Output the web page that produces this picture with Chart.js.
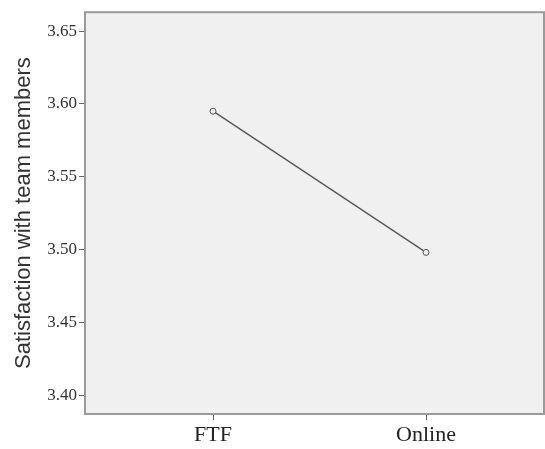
<!DOCTYPE html>
<html>
<head>
<meta charset="utf-8">
<script src="https://cdn.jsdelivr.net/npm/chart.js@4/dist/chart.umd.min.js"></script>
<style>
  html, body { margin: 0; padding: 0; background: #ffffff; }
  #wrap { width: 545px; height: 449px; }
</style>
</head>
<body>
<div id="wrap"><canvas id="c" width="545" height="449"></canvas></div>
<script>
const categories = ["FTF", "Online"];
const categoryPositions = [1, 2];
const satisfactionValues = [3.595, 3.498];
const yTickValues = [3.40, 3.45, 3.50, 3.55, 3.60, 3.65];
const yAxisTitle = "Satisfaction with team members";

const plotFrame = {
  id: 'plotFrame',
  beforeDatasetsDraw(chart) {
    const {ctx, chartArea: a} = chart;
    ctx.save();
    ctx.fillStyle = '#f0f0f0';
    ctx.fillRect(a.left, a.top, a.right - a.left, a.bottom - a.top);
    ctx.restore();
  },
  afterDatasetsDraw(chart) {
    const {ctx, chartArea: a} = chart;
    ctx.save();
    ctx.strokeStyle = '#9a9a9a';
    ctx.lineWidth = 2;
    ctx.strokeRect(a.left, a.top, a.right - a.left, a.bottom - a.top);
    ctx.restore();
  }
};

new Chart(document.getElementById('c'), {
  type: 'line',
  data: {
    datasets: [{
      data: categoryPositions.map((x, i) => ({x: x, y: satisfactionValues[i]})),
      borderColor: '#5a5a5a',
      borderWidth: 1.5,
      pointRadius: 3,
      pointBorderWidth: 1,
      pointBorderColor: '#555555',
      pointBackgroundColor: '#f0f0f0',
      tension: 0,
      fill: false
    }]
  },
  options: {
    responsive: false,
    animation: false,
    devicePixelRatio: 1,
    layout: { autoPadding: false, padding: { top: 11, right: 1, left: 0, bottom: 0 } },
    plugins: { legend: { display: false }, tooltip: { enabled: false } },
    scales: {
      x: {
        type: 'linear',
        min: 0.399,
        max: 2.554,
        afterBuildTicks(scale) { scale.ticks = categoryPositions.map(v => ({value: v})); },
        afterFit(scale) { scale.height = 35; scale.paddingLeft = 0; scale.paddingRight = 0; },
        grid: { drawOnChartArea: false, drawTicks: true, tickLength: 6, color: '#666666' },
        border: { display: false },
        ticks: {
          padding: 2,
          color: '#222222',
          font: { family: 'Liberation Serif', size: 22 },
          callback(v) { const i = categoryPositions.indexOf(v); return i >= 0 ? categories[i] : ''; },
          maxRotation: 0
        }
      },
      y: {
        min: 3.387,
        max: 3.663,
        afterBuildTicks(scale) { scale.ticks = yTickValues.map(v => ({value: v})); },
        afterFit(scale) { scale.width = 85; },
        grid: { drawOnChartArea: false, drawTicks: true, tickLength: 6, color: '#666666' },
        border: { display: false },
        title: {
          display: true,
          text: yAxisTitle,
          color: '#333333',
          font: { family: 'Liberation Sans', size: 22 },
          padding: { top: 11, bottom: 0 }
        },
        ticks: {
          padding: 2,
          color: '#333333',
          font: { family: 'Liberation Serif', size: 17 },
          callback(v) { return Number(v).toFixed(2); }
        }
      }
    }
  },
  plugins: [plotFrame]
});
</script>
</body>
</html>
